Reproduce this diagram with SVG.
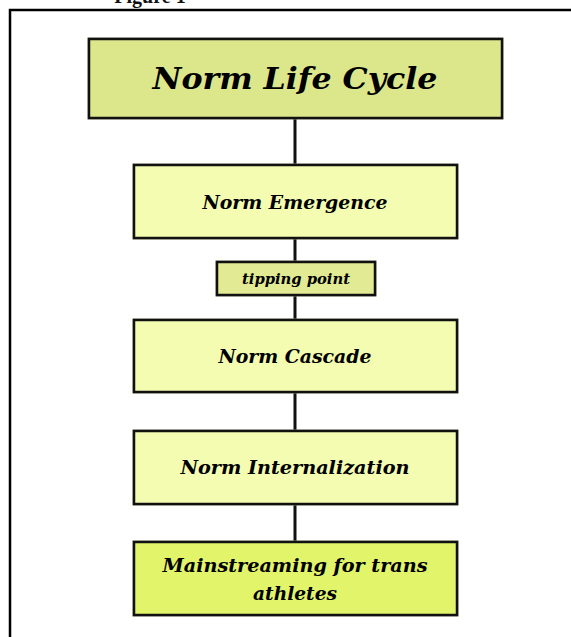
<svg xmlns="http://www.w3.org/2000/svg" width="571" height="637" viewBox="0 0 571 637">
<style>
.box{stroke:#111;stroke-width:2.5}
.sh{fill:none;stroke:#9a9a7a;stroke-width:1}
.t{font-family:"DejaVu Serif","Liberation Serif",serif;font-weight:bold;font-style:italic;fill:#000;text-anchor:middle}
.edge{stroke:#111;stroke-width:3;fill:none}
</style>
<rect width="571" height="637" fill="#fff"/>
<text x="150" y="3" font-family="Liberation Serif,serif" font-weight="bold" font-size="20" text-anchor="middle" fill="#111">Figure 1</text>
<rect x="10" y="10" width="600" height="660" fill="none" stroke="#000" stroke-width="2.5"/>
<g id="connectors">
<line class="edge" x1="295" y1="118" x2="295" y2="165"/>
<line class="edge" x1="295" y1="239" x2="295" y2="262"/>
<line class="edge" x1="295" y1="295" x2="295" y2="320"/>
<line class="edge" x1="295" y1="392" x2="295" y2="431"/>
<line class="edge" x1="295" y1="504" x2="295" y2="542"/>
</g>
<g id="title">
<rect class="sh" x="88" y="38" width="415" height="81"/>
<rect class="box" x="89" y="39" width="413" height="79" fill="#dce78b"/>
<text class="t" x="295" y="89" font-size="30" textLength="285" lengthAdjust="spacingAndGlyphs">Norm Life Cycle</text>
</g>
<g id="emergence">
<rect class="sh" x="133" y="164" width="325" height="75"/>
<rect class="box" x="134" y="165" width="323" height="73" fill="#f3fcb0"/>
<text class="t" x="295" y="209" font-size="18" textLength="185" lengthAdjust="spacingAndGlyphs">Norm Emergence</text>
</g>
<g id="tipping">
<rect class="sh" x="216" y="261" width="160" height="35"/>
<rect class="box" x="217" y="262" width="158" height="33" fill="#e2eb93"/>
<text class="t" x="296" y="284" font-size="14" textLength="108" lengthAdjust="spacingAndGlyphs">tipping point</text>
</g>
<g id="cascade">
<rect class="sh" x="133" y="319" width="325" height="74"/>
<rect class="box" x="134" y="320" width="323" height="72" fill="#f3fcb0"/>
<text class="t" x="295" y="363" font-size="18" textLength="153" lengthAdjust="spacingAndGlyphs">Norm Cascade</text>
</g>
<g id="internalization">
<rect class="sh" x="133" y="430" width="325" height="75"/>
<rect class="box" x="134" y="431" width="323" height="73" fill="#f3fcb0"/>
<text class="t" x="295" y="474" font-size="18" textLength="229" lengthAdjust="spacingAndGlyphs">Norm Internalization</text>
</g>
<g id="mainstreaming">
<rect class="sh" x="133" y="541" width="325" height="75"/>
<rect class="box" x="134" y="542" width="323" height="73" fill="#e2f46a"/>
<text class="t" x="295" y="572" font-size="18" textLength="265" lengthAdjust="spacingAndGlyphs">Mainstreaming for trans</text>
<text class="t" x="295" y="600" font-size="18" textLength="84" lengthAdjust="spacingAndGlyphs">athletes</text>
</g>
</svg>
